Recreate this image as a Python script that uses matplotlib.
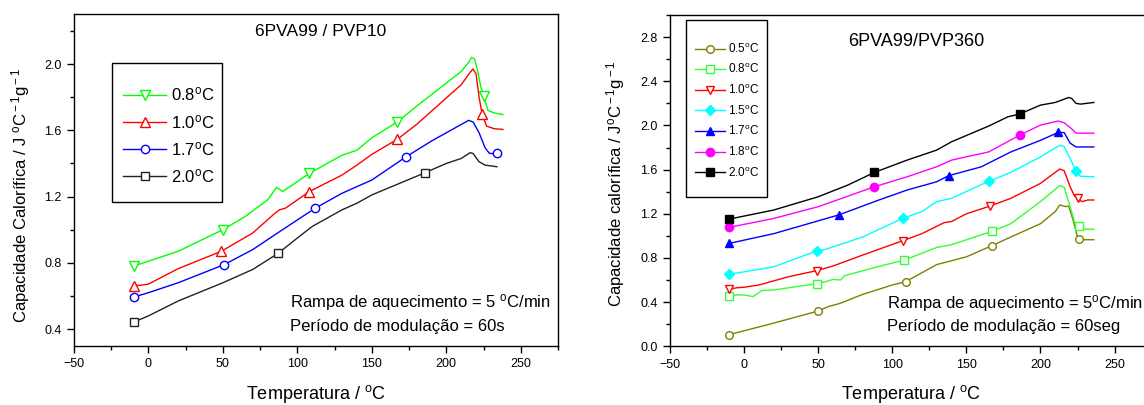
import numpy as np
import matplotlib
matplotlib.use('Agg')
import matplotlib.pyplot as plt
from matplotlib.ticker import MultipleLocator
import matplotlib.patches as mpatches

plt.rcParams['font.family'] = 'Liberation Sans'
plt.rcParams['mathtext.fontset'] = 'custom'
plt.rcParams['mathtext.rm'] = 'Liberation Sans'
plt.rcParams['mathtext.it'] = 'Liberation Sans:italic'
plt.rcParams['mathtext.bf'] = 'Liberation Sans:bold'

DEG = r'$^{\rm o}$'

# ---- left panel: 6PVA99 / PVP10 ----
T_l08 = [-10, 0, 20, 50, 65, 80, 84, 86, 88, 90, 95, 108, 120, 130, 140, 150, 167, 180, 200, 210, 215, 217, 219, 221, 223, 225, 228, 232, 238]
cp_l08 = [0.78, 0.81, 0.87, 1.00, 1.08, 1.18, 1.23, 1.255, 1.245, 1.23, 1.26, 1.34, 1.40, 1.45, 1.48, 1.555, 1.65, 1.745, 1.885, 1.955, 2.01, 2.04, 2.03, 1.96, 1.87, 1.805, 1.72, 1.705, 1.695]
mk_l08 = [-10, 50, 108, 167, 225]

T_l10 = [-10, -5, 0, 20, 49, 70, 85, 88, 92, 108, 130, 140, 150, 167, 180, 200, 210, 216, 218, 220, 222, 224, 227, 232, 238]
cp_l10 = [0.663, 0.665, 0.672, 0.765, 0.87, 0.98, 1.10, 1.12, 1.13, 1.23, 1.33, 1.39, 1.455, 1.545, 1.635, 1.795, 1.875, 1.95, 1.97, 1.94, 1.80, 1.70, 1.625, 1.61, 1.605]
mk_l10 = [-10, 49, 108, 167, 224]

T_l17 = [-10, 0, 20, 51, 70, 90, 112, 130, 150, 173, 190, 200, 210, 215, 218, 222, 226, 229, 234]
cp_l17 = [0.593, 0.62, 0.68, 0.79, 0.88, 1.0, 1.13, 1.22, 1.30, 1.44, 1.535, 1.585, 1.635, 1.66, 1.65, 1.585, 1.495, 1.46, 1.46]
mk_l17 = [-10, 51, 112, 173, 234]

T_l20 = [-10, 0, 20, 50, 70, 87, 100, 110, 130, 140, 150, 186, 200, 210, 216, 218, 222, 226, 234]
cp_l20 = [0.442, 0.48, 0.57, 0.68, 0.76, 0.857, 0.95, 1.02, 1.12, 1.16, 1.21, 1.345, 1.40, 1.43, 1.465, 1.46, 1.41, 1.39, 1.38]
mk_l20 = [-10, 87, 186]

# ---- right panel: 6PVA99/PVP360 ----
T_r05 = [-10, 20, 50, 57, 65, 80, 100, 109, 130, 150, 167, 180, 200, 210, 213, 217, 219, 222, 225, 226, 230, 236]
cp_r05 = [0.106, 0.21, 0.32, 0.36, 0.39, 0.47, 0.555, 0.585, 0.74, 0.81, 0.91, 0.99, 1.11, 1.22, 1.28, 1.265, 1.27, 1.145, 0.99, 0.97, 0.965, 0.965]
mk_r05 = [-10, 50, 109, 167, 226]

T_r08 = [-10, -5, 0, 6, 12, 20, 49, 55, 60, 65, 68, 90, 108, 130, 140, 167, 180, 200, 213, 216, 220, 224, 226, 228, 236]
cp_r08 = [0.455, 0.465, 0.465, 0.45, 0.505, 0.51, 0.567, 0.585, 0.606, 0.60, 0.64, 0.72, 0.78, 0.895, 0.92, 1.04, 1.11, 1.31, 1.455, 1.44, 1.265, 1.08, 1.09, 1.06, 1.06]
mk_r08 = [-10, 49, 108, 167, 226]

T_r10 = [-10, -5, 0, 10, 30, 49, 60, 80, 107, 120, 135, 140, 150, 166, 180, 200, 213, 216, 220, 223, 225, 228, 232, 236]
cp_r10 = [0.515, 0.53, 0.535, 0.555, 0.63, 0.685, 0.727, 0.826, 0.956, 1.02, 1.12, 1.13, 1.2, 1.27, 1.34, 1.475, 1.605, 1.59, 1.445, 1.36, 1.34, 1.31, 1.325, 1.325]
mk_r10 = [-10, 49, 107, 166, 225]

T_r15 = [-10, 20, 49, 55, 80, 107, 120, 130, 140, 165, 180, 200, 213, 216, 220, 224, 227, 236]
cp_r15 = [0.652, 0.72, 0.863, 0.878, 0.99, 1.158, 1.22, 1.31, 1.34, 1.494, 1.575, 1.715, 1.82, 1.81, 1.70, 1.587, 1.54, 1.535]
mk_r15 = [-10, 49, 107, 165, 224]

T_r17 = [-10, 20, 64, 90, 110, 130, 138, 160, 180, 200, 212, 216, 220, 224, 236]
cp_r17 = [0.932, 1.02, 1.19, 1.32, 1.415, 1.49, 1.545, 1.625, 1.76, 1.865, 1.937, 1.935, 1.84, 1.805, 1.805]
mk_r17 = [-10, 64, 138, 212]

T_r18 = [-10, 20, 50, 88, 110, 130, 140, 165, 186, 200, 212, 216, 221, 224, 236]
cp_r18 = [1.077, 1.158, 1.264, 1.445, 1.535, 1.626, 1.686, 1.76, 1.912, 2.003, 2.04, 2.024, 1.97, 1.93, 1.93]
mk_r18 = [-10, 88, 186]

T_r20 = [-10, 20, 50, 70, 88, 110, 130, 140, 165, 178, 186, 200, 210, 219, 221, 224, 227, 236]
cp_r20 = [1.152, 1.234, 1.354, 1.46, 1.575, 1.686, 1.777, 1.852, 1.994, 2.078, 2.103, 2.184, 2.208, 2.253, 2.245, 2.2, 2.193, 2.208]
mk_r20 = [-10, 88, 186]


def draw(ax, T, cp, mk, color, marker, filled, label, ms):
    T = np.asarray(T)
    idx = [int(np.argmin(np.abs(T - t))) for t in mk]
    ax.plot(T, cp, color=color, lw=1, marker=marker, markevery=idx, ms=ms,
            mfc=color if filled else 'white', mec=color, mew=1, label=label)


def style(ax, ymaj):
    ax.xaxis.set_major_locator(MultipleLocator(50))
    ax.xaxis.set_minor_locator(MultipleLocator(25))
    ax.yaxis.set_major_locator(MultipleLocator(ymaj))
    ax.yaxis.set_minor_locator(MultipleLocator(ymaj / 2))
    ax.tick_params(which='both', direction='out', top=False, right=False, labelsize=9, width=1)
    ax.tick_params(which='major', length=5, pad=4)
    ax.tick_params(which='minor', length=3)
    for s in ax.spines.values():
        s.set_linewidth(1)


W, H = 1144, 405
fig = plt.figure(figsize=(W / 100, H / 100), dpi=100)
ax1 = fig.add_axes([74 / W, 1 - 345.7 / H, 484 / W, 331.4 / H])
ax2 = fig.add_axes([670 / W, 1 - 346.3 / H, 481.6 / W, 331.3 / H])

# left
draw(ax1, T_l08, cp_l08, mk_l08, '#00ff00', 'v', False, '0.8' + DEG + 'C', 6.5)
draw(ax1, T_l10, cp_l10, mk_l10, '#ff0000', '^', False, '1.0' + DEG + 'C', 6.5)
draw(ax1, T_l17, cp_l17, mk_l17, '#0000ff', 'o', False, '1.7' + DEG + 'C', 6)
draw(ax1, T_l20, cp_l20, mk_l20, '#222222', 's', False, '2.0' + DEG + 'C', 5.5)
ax1.set_xlim(-50, 275)
ax1.set_ylim(0.3, 2.3)
style(ax1, 0.4)
ax1.set_xlabel('Temperatura / ' + DEG + 'C', fontsize=13, labelpad=9)
ax1.set_ylabel('Capacidade Calorífica / J ' + DEG + 'C$^{\\rm -1}$g$^{\\rm -1}$', fontsize=12)
ax1.yaxis.set_label_coords(-0.086, 0.452)
fig.text(321 / W, 1 - 31 / H, '6PVA99 / PVP10', ha='center', va='center', fontsize=12.5)
fig.text(290 / W, 1 - 303 / H, 'Rampa de aquecimento = 5 ' + DEG + 'C/min', ha='left', va='center', fontsize=12)
fig.text(290 / W, 1 - 326 / H, 'Período de modulação = 60s', ha='left', va='center', fontsize=12)
fig.patches.append(mpatches.Rectangle((112 / W, 1 - 202 / H), 110 / W, 139 / H, transform=fig.transFigure,
                                      fill=False, ec='black', lw=1))
ax1.legend(loc='center left', bbox_to_anchor=(123 / W, 1 - 135.5 / H), bbox_transform=fig.transFigure,
           frameon=False, fontsize=12, handlelength=2.6, handletextpad=0.3, labelspacing=0.55,
           borderpad=0, borderaxespad=0)

# right
draw(ax2, T_r05, cp_r05, mk_r05, '#808000', 'o', False, '0.5' + DEG + 'C', 5.5)
draw(ax2, T_r08, cp_r08, mk_r08, '#33ff33', 's', False, '0.8' + DEG + 'C', 5.5)
draw(ax2, T_r10, cp_r10, mk_r10, '#ff0000', 'v', False, '1.0' + DEG + 'C', 6)
draw(ax2, T_r15, cp_r15, mk_r15, '#00ffff', 'D', True, '1.5' + DEG + 'C', 5)
draw(ax2, T_r17, cp_r17, mk_r17, '#0000ff', '^', True, '1.7' + DEG + 'C', 6)
draw(ax2, T_r18, cp_r18, mk_r18, '#ff00ff', 'o', True, '1.8' + DEG + 'C', 6)
draw(ax2, T_r20, cp_r20, mk_r20, '#000000', 's', True, '2.0' + DEG + 'C', 5.5)
ax2.set_xlim(-50, 275)
ax2.set_ylim(0.0, 3.0)
style(ax2, 0.4)
ax2.set_xlabel('Temperatura / ' + DEG + 'C', fontsize=13, labelpad=9)
ax2.set_ylabel('Capacidade calorífica / J' + DEG + 'C$^{\\rm -1}$g$^{\\rm -1}$', fontsize=12)
ax2.yaxis.set_label_coords(-0.089, 0.49)
fig.text(916 / W, 1 - 41 / H, '6PVA99/PVP360', ha='center', va='center', fontsize=13)
fig.text(887 / W, 1 - 304 / H, 'Rampa de aquecimento = 5' + DEG + 'C/min', ha='left', va='center', fontsize=12)
fig.text(887 / W, 1 - 327 / H, 'Período de modulação = 60seg', ha='left', va='center', fontsize=12)
fig.patches.append(mpatches.Rectangle((686 / W, 1 - 197 / H), 81 / W, 177 / H, transform=fig.transFigure,
                                      fill=False, ec='black', lw=1))
ax2.legend(loc='center left', bbox_to_anchor=(694.5 / W, 1 - 110.7 / H), bbox_transform=fig.transFigure,
           frameon=False, fontsize=8.5, handlelength=2.6, handletextpad=0.25, labelspacing=0.58,
           borderpad=0, borderaxespad=0)

fig.savefig('out.png', dpi=100)
